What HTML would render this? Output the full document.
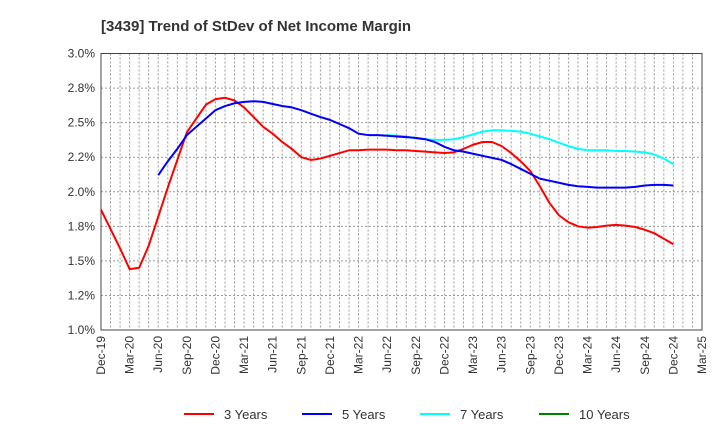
<!DOCTYPE html>
<html><head><meta charset="utf-8"><style>
body{margin:0;background:#fff;width:720px;height:440px;overflow:hidden;font-family:"Liberation Sans",sans-serif}
</style></head><body>
<svg id="chart" width="720" height="440" xmlns="http://www.w3.org/2000/svg" font-family="Liberation Sans, sans-serif">
<text x="101" y="31" font-size="15" font-weight="bold" fill="#333">[3439]  Trend of StDev of Net Income Margin</text>
<g id="grid"></g><g id="axes"></g><g id="series"></g><g id="legend"></g>
</svg>
<script>
const yTicks=[1.0,1.25,1.5,1.75,2.0,2.25,2.5,2.75,3.0];
const yTickLabels=["1.0%","1.2%","1.5%","1.8%","2.0%","2.2%","2.5%","2.8%","3.0%"];
const xTickLabels=["Dec-19","Mar-20","Jun-20","Sep-20","Dec-20","Mar-21","Jun-21","Sep-21","Dec-21","Mar-22","Jun-22","Sep-22","Dec-22","Mar-23","Jun-23","Sep-23","Dec-23","Mar-24","Jun-24","Sep-24","Dec-24","Mar-25"];
const seriesNames=["3 Years","5 Years","7 Years","10 Years"];
const seriesColors=["#ff0000","#0000ff","#00ffff","#008000"];
const years3=[1.87,1.73,1.59,1.44,1.45,1.61,1.82,2.03,2.23,2.43,2.53,2.63,2.67,2.68,2.66,2.61,2.54,2.47,2.42,2.36,2.31,2.25,2.23,2.24,2.26,2.28,2.30,2.30,2.305,2.305,2.305,2.30,2.30,2.295,2.29,2.285,2.28,2.285,2.31,2.34,2.36,2.36,2.33,2.28,2.22,2.15,2.04,1.92,1.83,1.78,1.75,1.74,1.745,1.755,1.76,1.755,1.745,1.725,1.70,1.66,1.62];
const years5Start=6;
const years5=[2.12,2.22,2.31,2.41,2.47,2.53,2.59,2.62,2.64,2.65,2.655,2.65,2.635,2.62,2.61,2.59,2.565,2.54,2.52,2.49,2.46,2.42,2.41,2.41,2.405,2.40,2.395,2.39,2.38,2.36,2.325,2.30,2.29,2.275,2.26,2.245,2.23,2.20,2.165,2.13,2.095,2.08,2.065,2.05,2.04,2.035,2.03,2.03,2.03,2.03,2.035,2.045,2.05,2.05,2.045];
const years7Start=30;
const years7=[2.41,2.405,2.40,2.385,2.38,2.375,2.375,2.38,2.395,2.415,2.435,2.445,2.445,2.44,2.435,2.42,2.40,2.38,2.355,2.33,2.31,2.30,2.30,2.30,2.295,2.295,2.29,2.285,2.27,2.24,2.20];
const years10=[];
const NS="http://www.w3.org/2000/svg";
const L=101,R=702,T=53.5,B=330,months=63;
const x=m=>L+(R-L)*m/months;
const y=v=>B-(v-1.0)/(3.0-1.0)*(B-T);
function mk(tag,attrs,parent){const e=document.createElementNS(NS,tag);for(const k in attrs)e.setAttribute(k,attrs[k]);parent.appendChild(e);return e;}
const grid=document.getElementById('grid'),axes=document.getElementById('axes'),ser=document.getElementById('series'),leg=document.getElementById('legend');
for(let m=1;m<months;m++){const l=mk('line',{x1:x(m),x2:x(m),y1:T,y2:B,stroke:'#999','stroke-dasharray':'2,2','stroke-width':1},grid);

}
yTicks.forEach((v,i)=>{if(i>0&&i<yTicks.length-1){const l=mk('line',{x1:L,x2:R,y1:y(v),y2:y(v),stroke:'#999','stroke-dasharray':'2,2','stroke-width':1},grid);

}
const t=mk('text',{x:L-6,y:y(v)+4,'text-anchor':'end','font-size':12,fill:'#333'},axes);t.textContent=yTickLabels[i];

});
xTickLabels.forEach((s,i)=>{const px=x(i*3);const t=mk('text',{x:0,y:0,'text-anchor':'end','font-size':12,fill:'#333',transform:`translate(${px+4},${B+6}) rotate(-90)`},axes);t.textContent=s;

});
const frame=mk('rect',{x:L,y:T,width:R-L,height:B-T,fill:'none',stroke:'#444','stroke-width':1},axes);


function line(vals,start,color,name){if(!vals.length)return;const pts=vals.map((v,i)=>x(start+i)+','+y(v)).join(' ');
const p=mk('polyline',{points:pts,fill:'none',stroke:color,'stroke-width':2,'stroke-linejoin':'round'},ser);

}
line(years7,years7Start,seriesColors[2],'series-7-years');
line(years3,0,seriesColors[0],'series-3-years');
line(years5,years5Start,seriesColors[1],'series-5-years');
line(years10,0,seriesColors[3],'series-10-years');
const legX=[184,302,420,539];
seriesNames.forEach((n,i)=>{const g=mk('g',{},leg);


mk('line',{x1:legX[i],x2:legX[i]+30,y1:414,y2:414,stroke:seriesColors[i],'stroke-width':2},g);
const t=mk('text',{x:legX[i]+40,y:419,'font-size':13,fill:'#333'},g);t.textContent=n;});
</script>
</body></html>
